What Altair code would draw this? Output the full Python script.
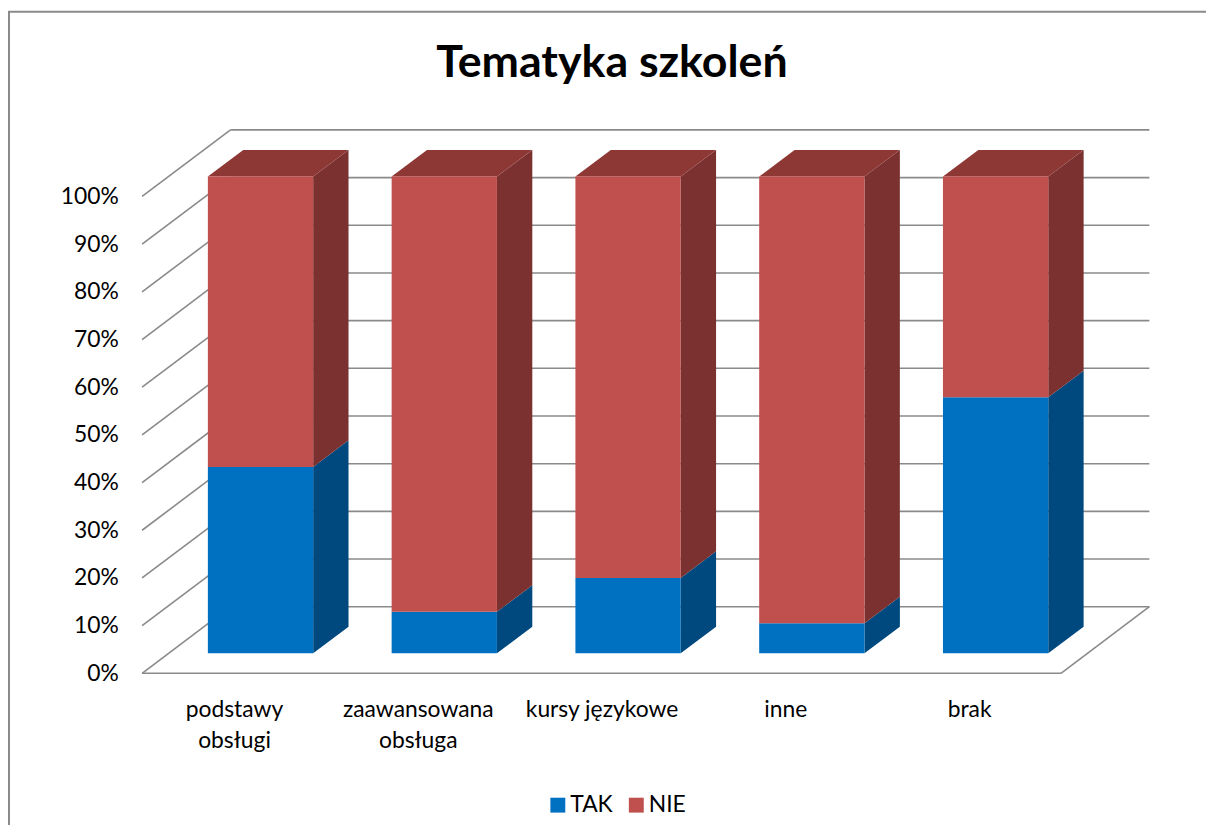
import json
import altair as alt
import pandas as pd

# ---------------- data ----------------
categories = ["podstawy obsługi", "zaawansowana obsługa", "kursy językowe", "inne", "brak"]
label_lines = [["podstawy", "obsługi"], ["zaawansowana", "obsługa"], ["kursy językowe"], ["inne"], ["brak"]]
series = ["TAK", "NIE"]
tak = [39.1, 8.7, 15.8, 6.3, 53.7]
nie = [60.9, 91.3, 84.2, 93.7, 46.3]
tick_values = [0, 10, 20, 30, 40, 50, 60, 70, 80, 90, 100]

# ---------------- 3D geometry (style) ----------------
DX = 89 / 185          # full box depth in x units (one unit = one category slot)
DY = 67 / 4.8          # full box depth in percent units
F = 0.30               # depth fraction where bar front sits
D = 0.40               # bar depth fraction
W = 106 / 185          # bar width as fraction of slot
fx, fy = F * DX, F * DY
sdx, sdy = D * DX, D * DY
N = len(categories)

front_colors = ["#0070C0", "#C0504D"]
side_colors = ["#00497E", "#7B3130"]
top_color = "#8E3836"
grid_color = "#8A8A8A"
FONT = "Lato"
LABEL_SIZE = 23

front_rows, side_rows, top_rows = [], [], []
for i, cat in enumerate(categories):
    lo = 0.0
    xl = i + (1 - W) / 2 + fx
    xr = xl + W
    for s, vals in zip(series, [tak, nie]):
        hi = lo + vals[i]
        front_rows.append(dict(cat=cat, series=s, x=xl, x2=xr, y=lo + fy, y2=hi + fy))
        key = f"{i}-{s}"
        side_rows.append(dict(key=key, series=s, x=xr, y=lo + fy, y2=hi + fy))
        side_rows.append(dict(key=key, series=s, x=xr + sdx, y=lo + fy + sdy, y2=hi + fy + sdy))
        lo = hi
    top_rows.append(dict(key=i, y=lo + fy, x=xl, x2=xr))
    top_rows.append(dict(key=i, y=lo + fy + sdy, x=xl + sdx, x2=xr + sdx))

line_rows = []
for v in tick_values:
    line_rows.append(dict(x=DX, x2=N + DX, y=v + DY, y2=v + DY))   # back wall
    line_rows.append(dict(x=0, x2=DX, y=v, y2=v + DY))             # left wall
line_rows.append(dict(x=0, x2=N, y=0, y2=0))                        # floor front
line_rows.append(dict(x=N, x2=N + DX, y=0, y2=DY))                  # floor right

front_df = pd.DataFrame(front_rows)
side_df = pd.DataFrame(side_rows)
top_df = pd.DataFrame(top_rows)
line_df = pd.DataFrame(line_rows)

xscale = alt.Scale(domain=[0, N + DX], nice=False, zero=False)
yscale = alt.Scale(domain=[0, 100 + DY], nice=False, zero=False)

PLOT_W = (N + DX) * 185
PLOT_H = (100 + DY) * 4.8

label_js = json.dumps(label_lines, ensure_ascii=False)

xaxis = alt.Axis(
    values=[i + 0.5 for i in range(N)],
    labelExpr=f"{label_js}[floor(datum.value)]",
    domain=False, ticks=False, grid=False, title=None,
    labelFontSize=LABEL_SIZE, labelFont=FONT, labelColor="#000000",
    labelPadding=26, labelLineHeight=31, labelBaseline="top",
)
yaxis = alt.Axis(
    values=tick_values, labelExpr="datum.value + '%'",
    domain=False, ticks=False, grid=False, title=None,
    labelFontSize=LABEL_SIZE, labelFont=FONT, labelColor="#000000",
    labelPadding=24,
)

frame = alt.Chart(pd.DataFrame({"a": [0]})).mark_rect(
    fillOpacity=0, stroke="#8A8A8A", strokeWidth=2
).encode(
    x=alt.value(-134), x2=alt.value(1214 - 143 + 30),
    y=alt.value(-119), y2=alt.value(836 - 128 + 30),
)

lines = alt.Chart(line_df).mark_rule(color=grid_color, strokeWidth=1.6).encode(
    x=alt.X("x:Q", scale=xscale, axis=xaxis),
    x2="x2:Q",
    y=alt.Y("y:Q", scale=yscale, axis=yaxis),
    y2="y2:Q",
)

side = alt.Chart(side_df).mark_area(orient="vertical").encode(
    x=alt.X("x:Q", scale=xscale, axis=xaxis),
    y=alt.Y("y:Q", scale=yscale, axis=yaxis),
    y2="y2:Q",
    detail="key:N",
    color=alt.Color("series:N", scale=alt.Scale(domain=series, range=side_colors), legend=None),
)

top = alt.Chart(top_df).mark_area(orient="horizontal", color=top_color).encode(
    y=alt.Y("y:Q", scale=yscale, axis=yaxis),
    x=alt.X("x:Q", scale=xscale, axis=xaxis),
    x2="x2:Q",
    detail="key:N",
)

front = alt.Chart(front_df).mark_rect().encode(
    x=alt.X("x:Q", scale=xscale, axis=xaxis),
    x2="x2:Q",
    y=alt.Y("y:Q", scale=yscale, axis=yaxis),
    y2="y2:Q",
    color=alt.Color(
        "series:N",
        scale=alt.Scale(domain=series, range=front_colors),
        legend=alt.Legend(
            title=None, orient="none", direction="horizontal",
            legendX=407, legendY=668,
            symbolType="square", symbolSize=225, symbolStrokeWidth=0,
            labelFontSize=LABEL_SIZE, labelFont=FONT, labelColor="#000000",
            labelOffset=1, columnPadding=12,
        ),
    ),
)

chart = alt.layer(frame, lines, side, top, front).resolve_scale(
    color="independent"
).properties(
    width=PLOT_W,
    height=PLOT_H,
    title=alt.TitleParams(
        "Tematyka szkoleń", fontSize=45, font=FONT, fontWeight="bold",
        anchor="middle", dx=-34, offset=-112, baseline="alphabetic", color="#000000",
    ),
    autosize=alt.AutoSizeParams(type="none"),
    padding={"left": 135, "top": 120, "right": 57, "bottom": 150},
).configure_view(strokeOpacity=0)

chart.save("out.html", embed_options={"renderer": "svg", "actions": False})
